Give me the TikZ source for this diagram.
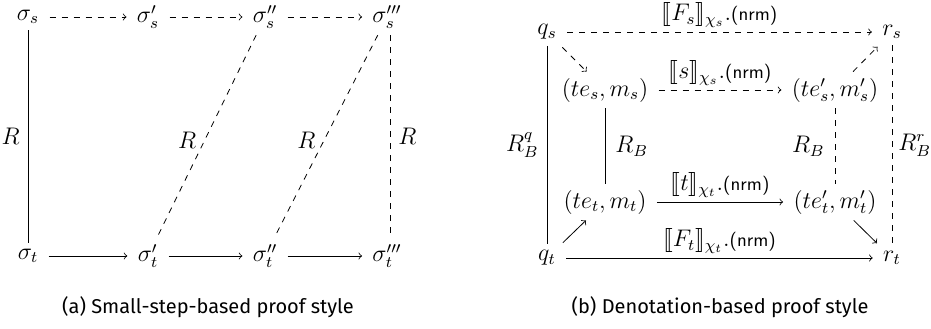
\documentclass[tikz,border=0pt]{standalone}
\usepackage{stmaryrd}
\usepackage{fontspec}
\newfontfamily\capfont{Fira Sans}
\newcommand{\nrmtxt}{\textsf{\fontsize{9.5}{11}\selectfont(nrm)}}
\begin{document}
\begin{tikzpicture}[x=0.5pt,y=-0.5pt,
  font=\fontsize{11.5}{13}\selectfont,
  obj/.style={inner sep=3pt},
  lbl/.style={inner sep=2pt},
  captext/.style={font=\capfont\fontsize{10}{12}\selectfont},
  >=to]
\useasboundingbox (0,0) rectangle (931,328);
% ---------- (a) ----------
\node[obj] (ss)  at (28,17)  {$\sigma_s$};
\node[obj] (ss1) at (148,17) {$\sigma'_s$};
\node[obj] (ss2) at (265,17) {$\sigma''_s$};
\node[obj] (ss3) at (387,17) {$\sigma'''_s$};
\node[obj] (st)  at (28,256)  {$\sigma_t$};
\node[obj] (st1) at (148,256) {$\sigma'_t$};
\node[obj] (st2) at (265,256) {$\sigma''_t$};
\node[obj] (st3) at (387,256) {$\sigma'''_t$};
\draw[->,dashed,shorten <=2pt,shorten >=2pt] (ss) -- (ss1);
\draw[->,dashed,shorten <=2pt,shorten >=2pt] (ss1) -- (ss2);
\draw[->,dashed,shorten <=2pt,shorten >=2pt] (ss2) -- (ss3);
\draw[->,shorten <=2pt,shorten >=2pt] (st) -- (st1);
\draw[->,shorten <=2pt,shorten >=2pt] (st1) -- (st2);
\draw[->,shorten <=2pt,shorten >=2pt] (st2) -- (st3);
\draw (ss) -- node[left,lbl,xshift=-2pt] {$R$} (st);
\draw[dashed] (ss2) -- node[left,lbl,pos=0.52,xshift=-2pt] {$R$} (st1);
\draw[dashed] (ss3) -- node[left,lbl,pos=0.52,xshift=-2pt] {$R$} (st2);
\draw[dashed] ([xshift=1.5pt]ss3.south) -- node[right,lbl,xshift=2pt] {$R$} ([xshift=1.5pt]st3.north);
\node[captext] (capa) at (208,307) {(a) Small-step-based proof style};
% ---------- (b) ----------
\node[obj] (qs) at (547,32) {$q_s$};
\node[obj] (rs) at (892,32) {$r_s$};
\node[obj] (qt) at (547,258) {$q_t$};
\node[obj] (rt) at (892,258) {$r_t$};
\node[obj] (tes) at (605,90) {$(te_s, m_s)$};
\node[obj] (tesp) at (835,90) {$(te'_s, m'_s)$};
\node[obj] (tet) at (605,202) {$(te_t, m_t)$};
\node[obj] (tetp) at (835,202) {$(te'_t, m'_t)$};
\draw[->,dashed,shorten <=2pt,shorten >=2pt] (qs) -- node[above,lbl] {$\llbracket F_s\rrbracket_{\chi_s}.$\nrmtxt} (rs);
\draw[->,shorten <=2pt,shorten >=2pt] (qt) -- node[above,lbl] {$\llbracket F_t\rrbracket_{\chi_t}.$\nrmtxt} (rt);
\draw[->,dashed,shorten <=2pt,shorten >=2pt] (tes) -- node[above,lbl] {$\llbracket s\rrbracket_{\chi_s}.$\nrmtxt} (tesp);
\draw[->,shorten <=2pt,shorten >=2pt] (tet) -- node[above,lbl] {$\llbracket t\rrbracket_{\chi_t}.$\nrmtxt} (tetp);
\draw[->,dashed,shorten <=1pt,shorten >=0pt] (qs) -- (tes);
\draw[->,dashed,shorten <=0pt,shorten >=1pt] (tesp) -- (rs);
\draw[->,shorten <=1pt,shorten >=0pt] (qt) -- (tet);
\draw[->,shorten <=0pt,shorten >=1pt] (tetp) -- (rt);
\draw (qs) -- node[left,lbl,xshift=-2pt] {$R^q_B$} (qt);
\draw (tes) -- node[right,lbl,xshift=3pt] {$R_B$} (tet);
\draw[dashed] (tesp) -- node[left,lbl,xshift=-3pt] {$R_B$} (tetp);
\draw[dashed] (rs) -- node[right,lbl,xshift=1pt] {$R^r_B$} (rt);
\node[captext] (capb) at (720,307) {(b) Denotation-based proof style};
\end{tikzpicture}
\end{document}
